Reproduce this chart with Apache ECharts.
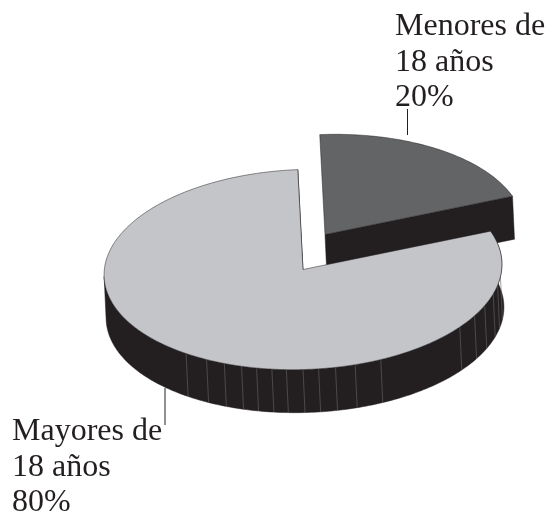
<!DOCTYPE html>
<html>
<head>
<meta charset="utf-8">
<style>
html, body { margin: 0; padding: 0; background: #fff; }
#main { width: 551px; height: 513px; }
</style>
<script src="https://cdn.jsdelivr.net/npm/echarts@6/dist/echarts.min.js"></script>
</head>
<body>
<div id="main"></div>
<script>
// data
var categories = ['Menores de\n18 años', 'Mayores de\n18 años'];
var values = [20, 80];
// angles (deg, clockwise from the top) of the thin rules on the rim of the big slice
var rimRules = [98, 103, 108, 115, 121.4, 129, 158, 165.8, 171.6, 176.5, 181, 185.8, 190, 194.5, 199, 204.3, 210, 217];

// look of the fake 3d pie
var cx = 303, cy = 269.5, rx = 199, ry = 100;
var tilt = -2 * Math.PI / 180;
var startAngle = -0.5;
var extrudeX = 2, extrudeY = 43;
var offsetX = [22, 0], offsetY = [-35, 0];
var topColors = ['#626466', '#c3c5c8'];
var sideColor = '#231f20';
var total = values[0] + values[1];

function rimPoint(deg, ox, oy) {
    var a = deg * Math.PI / 180;
    var dx = rx * Math.sin(a), dy = -ry * Math.cos(a);
    return [
        cx + ox + dx * Math.cos(tilt) - dy * Math.sin(tilt),
        cy + oy + dx * Math.sin(tilt) + dy * Math.cos(tilt)
    ];
}

function down(p) {
    return [p[0] + extrudeX, p[1] + extrudeY];
}

function arc(from, to, ox, oy) {
    var pts = [];
    var n = Math.ceil(Math.abs(to - from));
    for (var i = 0; i <= n; i++) {
        pts.push(rimPoint(from + (to - from) * i / n, ox, oy));
    }
    return pts;
}

function renderSlice(params, api) {
    var idx = params.dataIndex;
    var before = 0;
    for (var i = 0; i < idx; i++) before += values[i];
    var from = startAngle + before / total * 360;
    var to = from + api.value(0) / total * 360;
    var ox = offsetX[idx], oy = offsetY[idx];
    var apex = [cx + ox, cy + oy];
    var edge = arc(from, to, ox, oy);
    var children = [];
    var sideStyle = { fill: sideColor, stroke: sideColor, lineWidth: 0.5 };

    // the cut face that shows under the small slice
    var endPt = edge[edge.length - 1];
    children.push({
        type: 'polygon',
        shape: { points: [apex, endPt, down(endPt), down(apex)] },
        style: sideStyle
    });

    // front rim, only where it faces us
    var last = Math.min(to, 270);
    if (last > 90) {
        var upper = arc(from, last, ox, oy);
        var lower = upper.map(down).reverse();
        children.push({
            type: 'polygon',
            shape: { points: upper.concat(lower) },
            style: sideStyle
        });
        rimRules.forEach(function (deg) {
            var p = rimPoint(deg, ox, oy);
            var q = down(p);
            children.push({
                type: 'line',
                shape: { x1: p[0], y1: p[1], x2: q[0], y2: q[1] },
                style: { stroke: '#636466', lineWidth: 0.6 }
            });
        });
    }

    // top face
    children.push({
        type: 'polygon',
        shape: { points: [apex].concat(edge) },
        style: { fill: topColors[idx], stroke: sideColor, lineWidth: 0.5, lineJoin: 'miter' }
    });
    return { type: 'group', children: children };
}

function labelText(i) {
    return categories[i] + '\n' + values[i] + '%';
}

var labelFont = {
    fontFamily: 'Liberation Serif',
    fontSize: 32,
    lineHeight: 35.5,
    fill: '#231f20'
};

var chart = echarts.init(document.getElementById('main'), null, { renderer: 'canvas' });
chart.setOption({
    backgroundColor: '#fff',
    animation: false,
    graphic: [
        { type: 'line', z: 1, shape: { x1: 407.5, y1: 109, x2: 407.5, y2: 135 }, style: { stroke: '#231f20', lineWidth: 1 } },
        { type: 'line', z: 1, shape: { x1: 165, y1: 388, x2: 165, y2: 425 }, style: { stroke: '#231f20', lineWidth: 1 } },
        { type: 'text', z: 5, x: 395, y: 9, style: Object.assign({ text: labelText(0) }, labelFont) },
        { type: 'text', z: 5, x: 12, y: 414, style: Object.assign({ text: labelText(1) }, labelFont) }
    ],
    series: [{
        type: 'custom',
        coordinateSystem: 'none',
        z: 3,
        silent: true,
        renderItem: renderSlice,
        data: values.map(function (v) { return [v]; })
    }]
});
</script>
</body>
</html>
